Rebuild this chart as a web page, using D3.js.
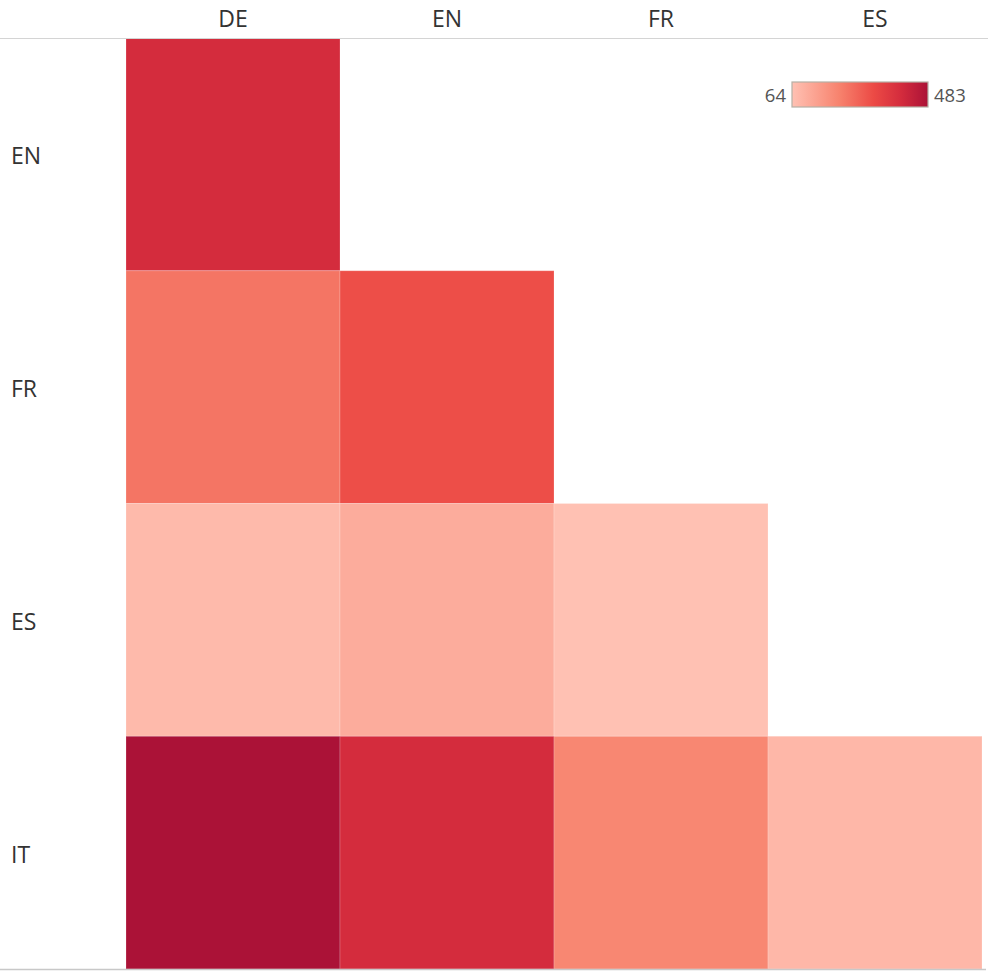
<!DOCTYPE html>
<html><head><meta charset="utf-8">
<script src="https://cdn.jsdelivr.net/npm/d3@7"></script>
<style>body{margin:0;background:#fff;} text{font-family:"Open Sans",sans-serif;}</style>
</head><body><svg id="c" width="988" height="977"></svg>
<script>
const columns = ["DE","EN","FR","ES"];
const rows = ["EN","FR","ES","IT"];
const cells = [
  {row:"EN", col:"DE", value:399},
  {row:"FR", col:"DE", value:235},
  {row:"FR", col:"EN", value:307},
  {row:"ES", col:"DE", value:80},
  {row:"ES", col:"EN", value:112},
  {row:"ES", col:"FR", value:64},
  {row:"IT", col:"DE", value:483},
  {row:"IT", col:"EN", value:399},
  {row:"IT", col:"FR", value:200},
  {row:"IT", col:"ES", value:88}
];
const legendDomain = [64, 483];
const colorStops = ["#ffc1b3","#f7826d","#ec4a45","#d42c3d","#ab1237"];
const stopPos = [0, 0.35, 0.6, 0.8, 1];

const svg = d3.select("#c");
const x = d3.scaleBand().domain(columns).range([126, 982]);
const y = d3.scaleBand().domain(rows).range([38, 969]);
const color = d3.scaleLinear()
  .domain(stopPos.map(p => legendDomain[0] + p*(legendDomain[1]-legendDomain[0])))
  .range(colorStops).interpolate(d3.interpolateRgb);

svg.append("g").selectAll("rect").data(cells).join("rect")
  .attr("x", d => x(d.col)).attr("y", d => y(d.row))
  .attr("width", x.bandwidth()).attr("height", y.bandwidth())
  .attr("fill", d => color(d.value))
  .attr("stroke", "rgba(255,255,255,0.2)").attr("stroke-width", 1);

svg.append("line").attr("x1",0).attr("x2",988).attr("y1",38.5).attr("y2",38.5).attr("stroke","#d4d4d4");
svg.append("line").attr("x1",0).attr("x2",986).attr("y1",969.5).attr("y2",969.5).attr("stroke","#c8c8c8").attr("stroke-width",1.5);

svg.append("g").selectAll("text").data(columns).join("text")
  .attr("x", d => x(d) + x.bandwidth()/2).attr("y", 27)
  .attr("text-anchor","middle").attr("font-size",23).attr("fill","#333").text(d => d);
svg.append("g").selectAll("text").data(rows).join("text")
  .attr("x", 11).attr("y", d => y(d) + y.bandwidth()/2 + 2)
  .attr("dy","0.35em").attr("font-size",23).attr("fill","#333").text(d => d);

const defs = svg.append("defs");
const grad = defs.append("linearGradient").attr("id","lg");
grad.selectAll("stop").data(stopPos).join("stop")
  .attr("offset", d => (d*100)+"%").attr("stop-color",(d,i)=>colorStops[i]);
const lx = d3.scaleLinear().domain(legendDomain).range([792, 928]);
svg.append("rect").attr("x", lx(64)).attr("y", 82).attr("width", lx(483)-lx(64)).attr("height", 25)
  .attr("fill","url(#lg)").attr("stroke","#b5b0a5").attr("stroke-width",1.2);
svg.append("text").attr("x", lx(64)-6).attr("y", 96).attr("dy","0.35em").attr("text-anchor","end")
  .attr("font-size",18.5).attr("fill","#555").text(legendDomain[0]);
svg.append("text").attr("x", lx(483)+6).attr("y", 96).attr("dy","0.35em").attr("text-anchor","start")
  .attr("font-size",18.5).attr("fill","#555").text(legendDomain[1]);
</script></body></html>
